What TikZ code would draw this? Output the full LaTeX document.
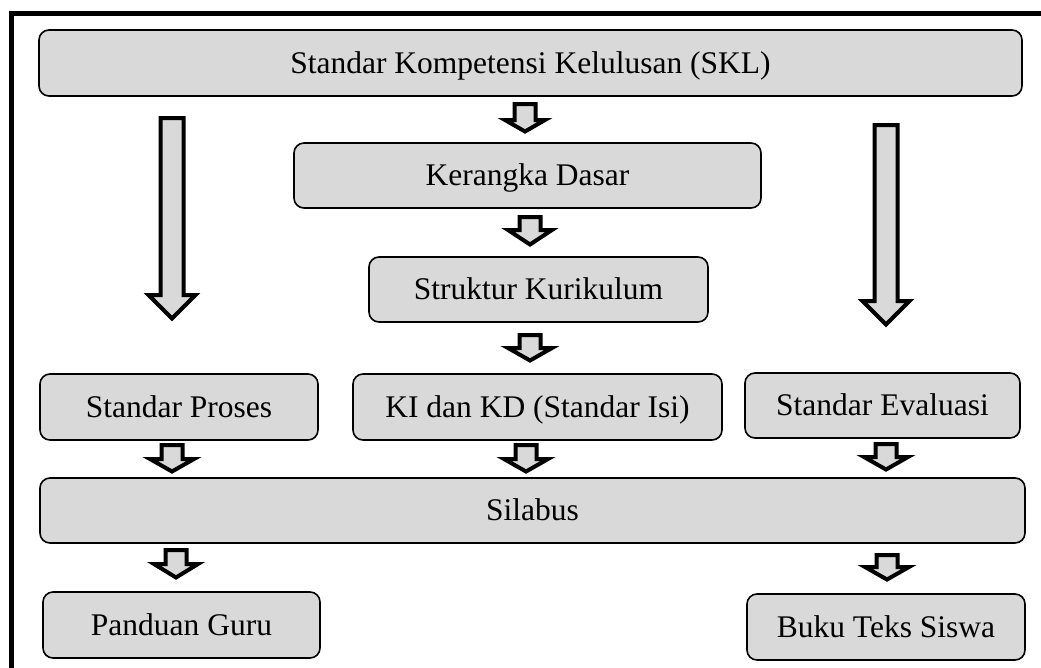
\documentclass[tikz,border=0pt]{standalone}
\usepackage{fontspec}
\setmainfont{Liberation Serif}
\definecolor{boxfill}{RGB}{217,217,217}
% block arrow: cx, top(outer), head base(outer), tip(outer), shaft half, head half
\newcommand\bkarrow[6]{%
  \draw[blk] (#1-#5,#2+2) -- (#1+#5,#2+2) -- (#1+#5,#3+2) -- (#1+#6,#3+2)
    -- (#1,#4-2.5) -- (#1-#6,#3+2) -- (#1-#5,#3+2) -- cycle;}
\begin{document}
\begin{tikzpicture}[x=1pt,y=-1pt,
  box/.style={draw=black, line width=1.6pt, fill=boxfill, rounded corners=10pt,
    inner sep=0pt, text height=22pt, text depth=2pt,
    font=\fontsize{31.5}{36}\selectfont, text=black},
  blk/.style={draw=black, line width=4pt, fill=boxfill, line join=miter, miter limit=10}]
\useasboundingbox (0,0) rectangle (1041,667);
\clip (0,0) rectangle (1041,667);
% outer frame (right and bottom edges lie outside the picture)
\draw[line width=5pt] (11.5,13.5) rectangle (1100,720);
% boxes
\node[box, minimum width=983pt, minimum height=66pt] (skl) at (530.5,63) {Standar Kompetensi Kelulusan (SKL)};
\node[box, minimum width=467pt, minimum height=65pt] (ker) at (527.5,175.5) {Kerangka Dasar};
\node[box, minimum width=339pt, minimum height=65pt] (str) at (538.5,289.5) {Struktur Kurikulum};
\node[box, minimum width=278pt, minimum height=66pt] (sp) at (179,407) {Standar Proses};
\node[box, minimum width=369pt, minimum height=66pt] (ki) at (537.5,407) {KI dan KD (Standar Isi)};
\node[box, minimum width=275pt, minimum height=65pt] (se) at (882.5,405.5) {Standar Evaluasi};
\node[box, minimum width=985pt, minimum height=65pt] (sil) at (532.5,510.5) {Silabus};
\node[box, minimum width=277pt, minimum height=66pt] (pg) at (181.5,625) {Panduan Guru};
\node[box, minimum width=278pt, minimum height=66pt] (bts) at (886,627) {Buku Teks Siswa};
% long arrows
\bkarrow{172}{116}{293}{321}{11.5}{23.5}
\bkarrow{886}{123}{299}{327}{11.5}{23.5}
% short arrows
\bkarrow{525}{102}{118}{134}{10.5}{20}
\bkarrow{530}{215}{228}{247}{10.5}{22}
\bkarrow{530}{333}{346}{363}{10.5}{22}
\bkarrow{172}{443}{457}{474}{10.5}{22}
\bkarrow{526}{443}{457}{474}{10.5}{22}
\bkarrow{886}{442}{455}{472}{10.5}{22}
\bkarrow{176}{548}{562}{580}{10.5}{22}
\bkarrow{887}{553}{565}{582}{10.5}{22}
\end{tikzpicture}
\end{document}
